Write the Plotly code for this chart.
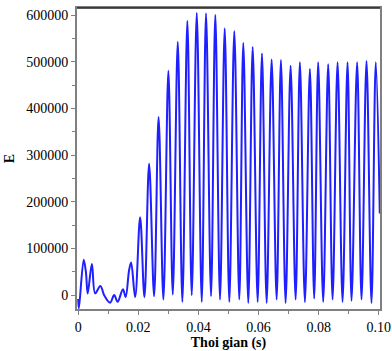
import plotly.graph_objects as go

# ---- data (time in s, E) ----
early_t = [0.0, 0.00023, 0.00183, 0.00256, 0.00316, 0.00455, 0.00565, 0.00738,
           0.00864, 0.01063, 0.01196, 0.01312, 0.01488, 0.01578, 0.01694]
early_E = [-8000, -28000, 76000, 50000, 3500, 67000, 4000, 20000,
           0, -16000, 500, -14000, 13000, -4000, 54000]

peak_t = [0.01761, 0.02060, 0.02359, 0.02674, 0.03000, 0.03312, 0.03631, 0.03944,
          0.04252, 0.04561, 0.04874, 0.05193, 0.05492, 0.05804, 0.06113, 0.06435,
          0.06744, 0.07066, 0.07375, 0.07708, 0.07983, 0.08316, 0.08628, 0.08960,
          0.09279, 0.09591, 0.09900]
peak_E = [70000, 167000, 282000, 382000, 481000, 543000, 588000, 605000,
          604000, 601000, 572000, 566000, 541000, 532000, 518000, 505000,
          504000, 492000, 499000, 485000, 499000, 495000, 499000, 499000,
          499000, 502000, 499000]

trough_t = [0.01894, 0.02203, 0.02525, 0.02834, 0.03146, 0.03465, 0.03777, 0.04110,
            0.04419, 0.04718, 0.05027, 0.05359, 0.05658, 0.05970, 0.06269, 0.06601,
            0.06900, 0.07233, 0.07542, 0.07850, 0.08150, 0.08462, 0.08794, 0.09093,
            0.09425, 0.09757]
trough_E = [-4000, -4300, -2100, -9300, 1300, -14300, 0, -14300,
            -2100, -9300, -14300, -9300, -16500, -14300, -16500, -9300,
            -16500, -9300, -14300, -7100, -14300, -9300, -14300, -12000,
            -9300, -16500]

end_t = [0.10033]
end_E = [175000]

x_ticks = [0, 0.02, 0.04, 0.06, 0.08, 0.10]
x_labels = ["0", "0.02", "0.04", "0.06", "0.08", "0.10"]
y_ticks = [0, 100000, 200000, 300000, 400000, 500000, 600000]
y_labels = ["0", "100000", "200000", "300000", "400000", "500000", "600000"]

# ---- assemble polyline ----
ts = list(early_t)
es = list(early_E)
for i in range(len(peak_t)):
    ts.append(peak_t[i]); es.append(peak_E[i])
    if i < len(trough_t):
        ts.append(trough_t[i]); es.append(trough_E[i])
ts += end_t
es += end_E

fig = go.Figure()
fig.add_trace(go.Scatter(x=ts, y=es, mode="lines",
                         line=dict(color="#1f1fff", width=2, shape="spline", smoothing=1.0),
                         hoverinfo="skip", showlegend=False))

serif = "Liberation Serif, Times New Roman, serif"
axis_font = dict(family=serif, size=14, color="black")
fig.update_layout(
    width=392, height=351,
    margin=dict(l=77, r=12, t=8, b=42),
    paper_bgcolor="white", plot_bgcolor="white",
    xaxis=dict(range=[-0.0004, 0.1004], tickvals=x_ticks, ticktext=x_labels,
               automargin=False,
               showgrid=False, zeroline=False, showline=True, linecolor="#808080",
               linewidth=2, mirror=True, ticks="outside", ticklen=4, tickcolor="#808080",
               tickwidth=1, tickfont=axis_font,
               minor=dict(dtick=0.01, tick0=0, ticks="outside", ticklen=3, tickcolor="#808080"),
               title=dict(text="<b>Thoi gian (s)</b>", font=dict(family=serif, size=14, color="black"),
                          standoff=4)),
    yaxis=dict(range=[-29500, 615500], tickvals=y_ticks, ticktext=y_labels,
               automargin=False,
               showgrid=False, zeroline=False, showline=True, linecolor="#808080",
               linewidth=2, mirror=True, ticks="outside", ticklen=4, tickcolor="#808080",
               tickwidth=1, tickfont=axis_font,
               minor=dict(dtick=50000, tick0=0, ticks="outside", ticklen=3, tickcolor="#808080"),
               title=dict(text="<b>E</b>", font=dict(family=serif, size=14, color="black"),
                          standoff=8)),
    shapes=[dict(type="line", xref="paper", yref="paper", x0=0, x1=1, y0=1, y1=1,
                 line=dict(color="#202020", width=1.5))],
)

fig.write_html("out.html")
